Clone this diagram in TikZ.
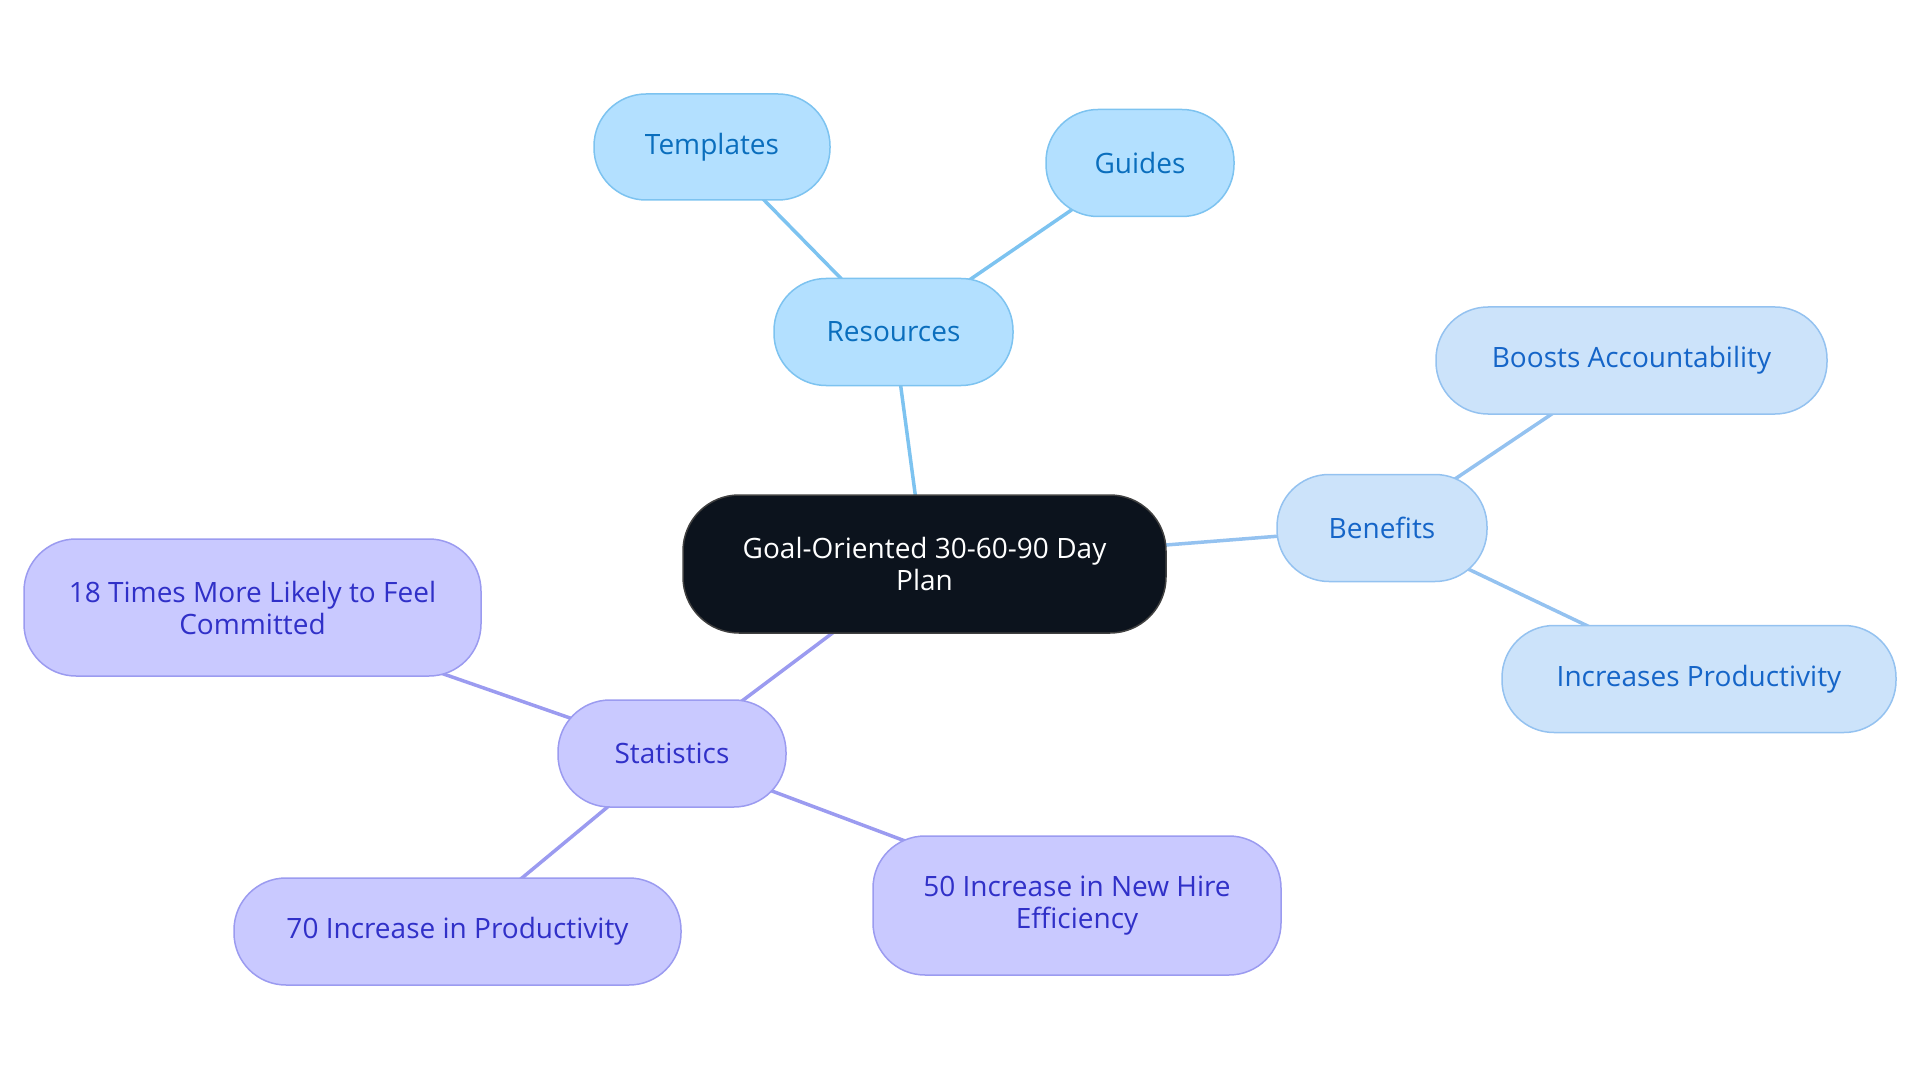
\documentclass[tikz,border=0pt]{standalone}
\usepackage{fontspec}
\setmainfont{Open Sans}
\usetikzlibrary{backgrounds}
\definecolor{resfill}{HTML}{B3E0FF}
\definecolor{resdraw}{HTML}{7DC3F0}
\definecolor{restext}{HTML}{0A6EBD}
\definecolor{benfill}{HTML}{CCE3FA}
\definecolor{bendraw}{HTML}{94C2F0}
\definecolor{bentext}{HTML}{1565C8}
\definecolor{statfill}{HTML}{C9C9FF}
\definecolor{statdraw}{HTML}{9B9BF0}
\definecolor{stattext}{HTML}{3030C8}
\definecolor{centfill}{HTML}{0C131D}
\tikzset{
  pill/.style={rounded corners=#1, line width=1.5pt, align=center, inner sep=0pt, font=\fontsize{28}{32}\selectfont},
  res/.style={pill=52pt, fill=resfill, draw=resdraw, text=restext},
  ben/.style={pill=52pt, fill=benfill, draw=bendraw, text=bentext},
  stat/.style={pill=52pt, fill=statfill, draw=statdraw, text=stattext},
  cent/.style={pill=56pt, fill=centfill, draw=black!75, text=white},
  resline/.style={draw=resdraw, line width=3.5pt},
  benline/.style={draw=bendraw, line width=3.5pt},
  statline/.style={draw=statdraw, line width=3.5pt},
}
\begin{document}
\begin{tikzpicture}[x=1pt,y=-1pt]
\useasboundingbox (0,0) rectangle (1920,1083);
\node[cent, minimum width=483pt, minimum height=138pt] (c) at (924.5,564) {Goal-Oriented 30-60-90 Day\\Plan};
\node[res, minimum width=239pt, minimum height=107pt] (r) at (893.5,332) {Resources};
\node[res, minimum width=236pt, minimum height=106pt] (t) at (712,147) {Templates};
\node[res, minimum width=188pt, minimum height=107pt] (g) at (1140,163) {Guides};
\node[ben, minimum width=210pt, minimum height=107pt] (b) at (1382,528) {Benefits};
\node[ben, minimum width=391pt, minimum height=107pt] (ba) at (1631.5,360.5) {Boosts Accountability};
\node[ben, minimum width=394pt, minimum height=107pt] (ip) at (1699,679) {Increases Productivity};
\node[stat, minimum width=228pt, minimum height=107pt] (s) at (672,753.5) {Statistics};
\node[stat, minimum width=457pt, minimum height=137pt] (s18) at (252.5,607.5) {18 Times More Likely to Feel\\Committed};
\node[stat, minimum width=447pt, minimum height=107pt] (s70) at (457.5,931.5) {70 Increase in Productivity};
\node[stat, minimum width=408pt, minimum height=139pt] (s50) at (1077,905.5) {50 Increase in New Hire\\Efficiency};
\begin{scope}[on background layer]
\draw[resline] (c.center) -- (r.center);
\draw[resline] (r.center) -- (t.center);
\draw[resline] (r.center) -- (g.center);
\draw[benline] (c.center) -- (b.center);
\draw[benline] (b.center) -- (ba.center);
\draw[benline] (b.center) -- (ip.center);
\draw[statline] (c.center) -- (s.center);
\draw[statline] (s.center) -- (s18.center);
\draw[statline] (s.center) -- (s70.center);
\draw[statline] (s.center) -- (s50.center);
\end{scope}
\end{tikzpicture}
\end{document}
